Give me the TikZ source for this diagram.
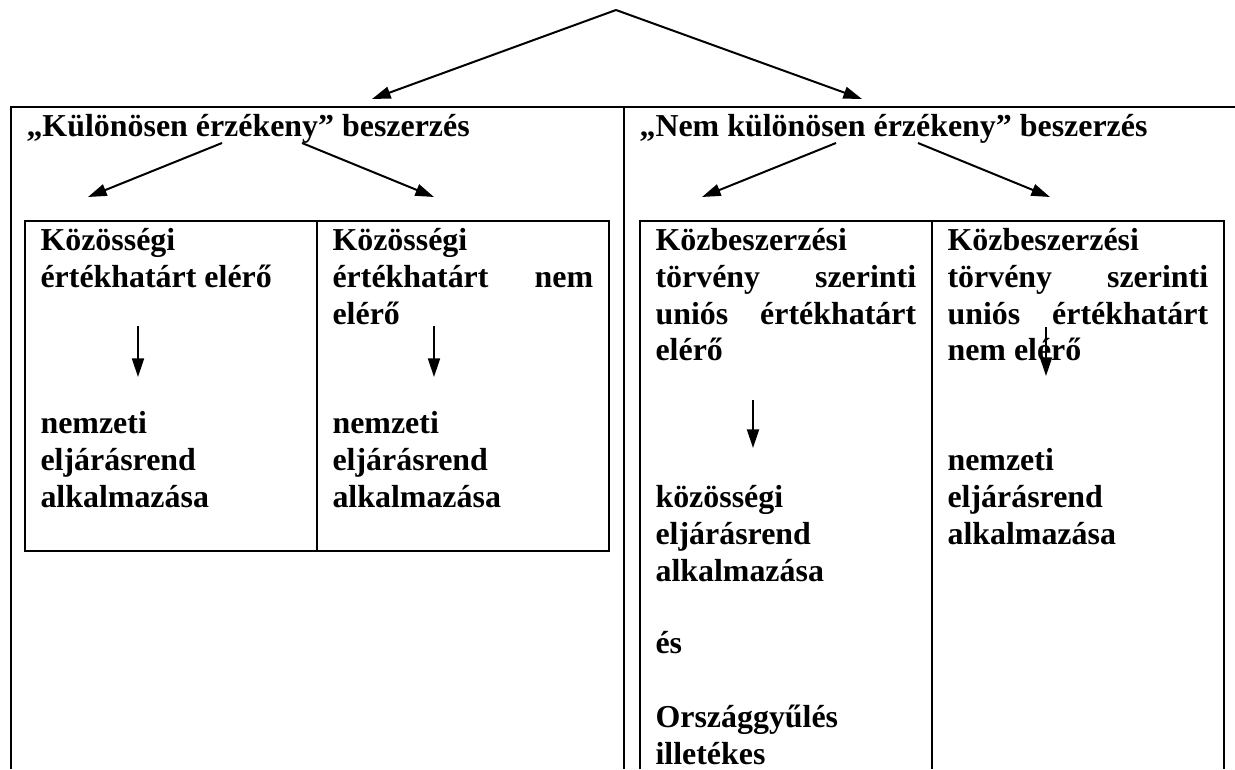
\documentclass[tikz,border=0pt]{standalone}
\usepackage{fontspec}
\setmainfont{Liberation Serif}
\usepackage{tikz}
\usetikzlibrary{arrows.meta,positioning}
\hyphenpenalty=10000
\tolerance=10000

\begin{document}
\begin{tikzpicture}[x=0.376pt, y=-0.376pt, every node/.style={font=\fontsize{12}{13.8}\selectfont\bfseries, inner sep=0pt}]

\tikzstyle{frame} = [line width=1pt]
\tikzstyle{head} = [anchor=base west]
\tikzstyle{cell} = [anchor=north west, text width=98pt, align=justify]
\tikzstyle{arrow} = [line width=0.75pt, -{Triangle[length=7pt, width=4.5pt]}]

\useasboundingbox (0,0) rectangle (1235,769);
\clip (0,0) rectangle (1235,769);

% Frames
\draw[frame] (11,769) -- (11,107) -- (1235,107);
\draw[frame] (624,107) -- (624,769);
\draw[frame] (25,221) rectangle (609,551);
\draw[frame] (317,221) -- (317,551);
\draw[frame] (640,769) -- (640,221) -- (1224,221) -- (1224,769);
\draw[frame] (932,221) -- (932,769);

% Headings
\node[head] (sens) at (26,136) {„Különösen érzékeny” beszerzés};
\node[head] (nonsens) at (639,136) {„Nem különösen érzékeny” beszerzés};

% Left cells
\node[cell] (reachL) at (40,221) {\rule{0pt}{11pt}Közösségi értékhatárt elérő};
\node[cell] (belowL) at (332,221) {\rule{0pt}{11pt}Közösségi értékhatárt nem elérő};
\node[cell] (natL1) at (40,404) {\rule{0pt}{11pt}nemzeti eljárásrend alkalmazása};
\node[cell] (natL2) at (332,404) {\rule{0pt}{11pt}nemzeti eljárásrend alkalmazása};

% Right cells
\node[cell] (reachR) at (655,221) {\rule{0pt}{11pt}Közbeszerzési törvény szerinti uniós értékhatárt elérő};
\node[cell] (belowR) at (947,221) {\rule{0pt}{11pt}Közbeszerzési törvény szerinti uniós értékhatárt nem elérő};
\node[cell] (commR) at (655,478) {\rule{0pt}{11pt}közösségi eljárásrend alkalmazása};
\node[cell] (andR) at (655,624) {\rule{0pt}{11pt}és};
\node[cell] (parlR) at (655,698) {\rule{0pt}{11pt}Országgyűlés illetékes};
\node[cell] (natR) at (947,441) {\rule{0pt}{11pt}nemzeti eljárásrend alkalmazása};

% Arrow ends
\coordinate (apex) at (616,10);
\coordinate (tipL) at (372,99);
\coordinate (tipR) at (862,99);
\coordinate (sL1) at (222,143);
\coordinate (eL1) at (88,197);
\coordinate (sL2) at (302,143);
\coordinate (eL2) at (434,197);
\coordinate (sR1) at (836,143);
\coordinate (eR1) at (702,197);
\coordinate (sR2) at (918,143);
\coordinate (eR2) at (1050,197);
\coordinate (dL1s) at (138,326);
\coordinate (dL1e) at (138,377);
\coordinate (dL2s) at (434,326);
\coordinate (dL2e) at (434,377);
\coordinate (dR1s) at (753,400);
\coordinate (dR1e) at (753,448);
\coordinate (dR2s) at (1046,327);
\coordinate (dR2e) at (1046,376);

% Arrows
\draw[arrow] (apex) -- (tipL);
\draw[arrow] (apex) -- (tipR);
\draw[arrow] (sL1) -- (eL1);
\draw[arrow] (sL2) -- (eL2);
\draw[arrow] (sR1) -- (eR1);
\draw[arrow] (sR2) -- (eR2);
\draw[arrow] (dL1s) -- (dL1e);
\draw[arrow] (dL2s) -- (dL2e);
\draw[arrow] (dR1s) -- (dR1e);
\draw[arrow] (dR2s) -- (dR2e);

\end{tikzpicture}
\end{document}
